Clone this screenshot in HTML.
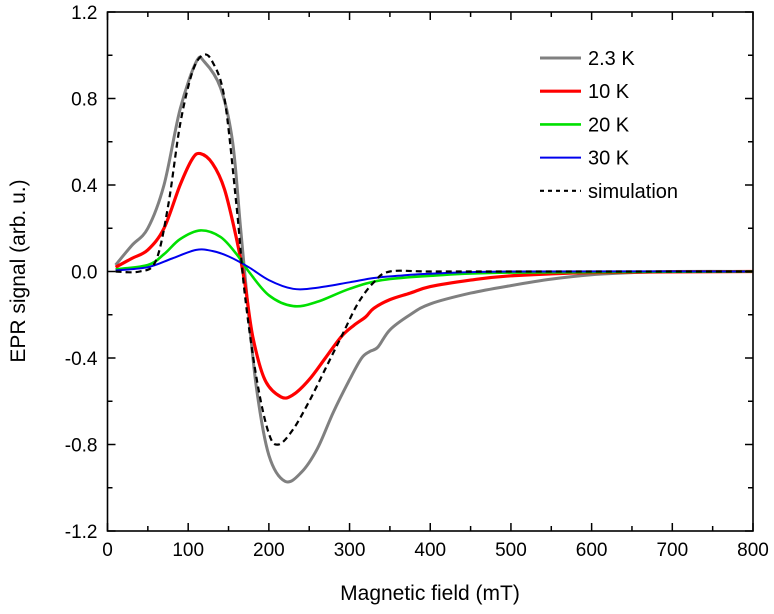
<!DOCTYPE html>
<html><head><meta charset="utf-8"><style>
html,body{margin:0;padding:0;background:#fff;}
svg text{font-family:"Liberation Sans",Arial,sans-serif;fill:#000;}
</style></head><body>
<svg id="chart" width="774" height="609" viewBox="0 0 774 609">
<g id="plot"></g>
</svg>
<script>
const xTicks=[0,100,200,300,400,500,600,700,800];
const yTicks=[-1.2,-0.8,-0.4,0.0,0.4,0.8,1.2];
const seriesNames=["2.3 K","10 K","20 K","30 K","simulation"];
const gX=[10,30,50,70,90,110,120,140,155,165,175,185,200,220,240,260,280,300,315,325,335,350,375,400,450,500,550,600,650,700,800];
const gY=[0.03,0.12,0.2,0.4,0.75,0.97,0.97,0.85,0.6,0.2,-0.2,-0.55,-0.85,-0.97,-0.93,-0.82,-0.65,-0.5,-0.4,-0.37,-0.35,-0.27,-0.2,-0.15,-0.1,-0.065,-0.035,-0.015,-0.005,0,0];
const rX=[10,30,50,70,90,105,115,130,145,160,170,180,195,215,230,250,270,290,305,320,330,350,375,400,450,500,600,800];
const rY=[0.02,0.06,0.1,0.2,0.4,0.52,0.545,0.5,0.38,0.15,-0.05,-0.3,-0.5,-0.58,-0.57,-0.5,-0.4,-0.3,-0.25,-0.21,-0.17,-0.13,-0.1,-0.07,-0.04,-0.02,-0.005,0];
const grX=[10,50,70,90,115,140,160,175,200,230,260,300,340,400,500,800];
const grY=[0.01,0.03,0.08,0.15,0.19,0.16,0.08,0,-0.11,-0.16,-0.14,-0.08,-0.04,-0.02,-0.005,0];
const bX=[10,50,80,110,130,150,175,200,230,260,300,330,360,400,500,800];
const bY=[0.005,0.02,0.06,0.1,0.095,0.07,0.02,-0.04,-0.08,-0.075,-0.05,-0.03,-0.02,-0.01,0,0];
const sX=[10,40,60,75,90,105,118,130,145,160,170,185,200,212,230,250,270,290,310,330,350,400,500,650,800];
const sY=[0,0,0.05,0.3,0.68,0.92,1.0,0.97,0.8,0.3,-0.1,-0.5,-0.75,-0.8,-0.73,-0.6,-0.45,-0.3,-0.15,-0.05,0,0,0,0,0];

const L=107.5,R=753,T=12,B=531;
const xs=v=>L+(v-0)/800*(R-L);
const ys=v=>B-(v+1.2)/2.4*(B-T);
const NS='http://www.w3.org/2000/svg';
const svg=document.getElementById('chart');
function mk(tag,attrs,parent){const e=document.createElementNS(NS,tag);for(const k in attrs)e.setAttribute(k,attrs[k]);(parent||svg).appendChild(e);return e;}
function smooth(px,py){
  let d='M'+px[0].toFixed(1)+','+py[0].toFixed(1);
  for(let i=0;i<px.length-1;i++){
    const i0=Math.max(0,i-1),i3=Math.min(px.length-1,i+2);
    const c1x=px[i]+(px[i+1]-px[i0])/6,c1y=py[i]+(py[i+1]-py[i0])/6;
    const c2x=px[i+1]-(px[i3]-px[i])/6,c2y=py[i+1]-(py[i3]-py[i])/6;
    d+=' C'+c1x.toFixed(1)+','+c1y.toFixed(1)+' '+c2x.toFixed(1)+','+c2y.toFixed(1)+' '+px[i+1].toFixed(1)+','+py[i+1].toFixed(1);
  }
  return d;
}

const series=[[gX,gY,'#808080',3,null],[rX,rY,'#ff0000',3.2,null],[grX,grY,'#00e000',2.6,null],[bX,bY,'#0000ee',2,null],[sX,sY,'#000',2.2,'6,4']];
const names=['series-2-3k','series-10k','series-20k','series-30k','series-simulation'];
series.forEach((s,i)=>{
  const d=smooth(s[0].map(xs),s[1].map(ys));
  const p=mk('path',{d:d,fill:'none',stroke:s[2],'stroke-width':s[3],'stroke-linejoin':'round'});
  if(s[4])p.setAttribute('stroke-dasharray',s[4]);
  
  
});

const fr=mk('rect',{x:L,y:T,width:R-L,height:B-T,fill:'none',stroke:'#000','stroke-width':1.6});



xTicks.forEach((v,i)=>{
  const x=xs(v);
  mk('line',{x1:x,x2:x,y1:B,y2:B-8,stroke:'#000','stroke-width':1.5});
  mk('line',{x1:x,x2:x,y1:T,y2:T+8,stroke:'#000','stroke-width':1.5});
  if(i<xTicks.length-1){const xm=xs(v+50);
    mk('line',{x1:xm,x2:xm,y1:B,y2:B-5,stroke:'#000','stroke-width':1.5});
    mk('line',{x1:xm,x2:xm,y1:T,y2:T+5,stroke:'#000','stroke-width':1.5});}
  const t=mk('text',{x:x,y:B+25,'text-anchor':'middle','font-size':19});
  t.textContent=String(v);
  
  
});
yTicks.forEach((v,i)=>{
  const y=ys(v);
  mk('line',{x1:L,x2:L+8,y1:y,y2:y,stroke:'#000','stroke-width':1.5});
  mk('line',{x1:R,x2:R-8,y1:y,y2:y,stroke:'#000','stroke-width':1.5});
  if(i<yTicks.length-1){const ym=ys(v+0.2);
    mk('line',{x1:L,x2:L+5,y1:ym,y2:ym,stroke:'#000','stroke-width':1.5});
    mk('line',{x1:R,x2:R-5,y1:ym,y2:ym,stroke:'#000','stroke-width':1.5});}
  const t=mk('text',{x:L-10,y:y+7,'text-anchor':'end','font-size':19});
  t.textContent=v.toFixed(1);
  
  
});

series.forEach((s,i)=>{
  const y=58+i*33.2;
  const ln=mk('line',{x1:540,x2:581,y1:y,y2:y,stroke:s[2],'stroke-width':s[3]});
  if(s[4])ln.setAttribute('stroke-dasharray','4,4');
  
  
  const t=mk('text',{x:588,y:y+7,'font-size':20});
  t.textContent=seriesNames[i];
  
  
});

const xt=mk('text',{x:430,y:600,'text-anchor':'middle','font-size':21});
xt.textContent='Magnetic field (mT)';


const yt=mk('text',{x:0,y:0,'text-anchor':'middle','font-size':21,transform:'translate(25,271) rotate(-90)'});
yt.textContent='EPR signal (arb. u.)';


</script>
</body></html>
